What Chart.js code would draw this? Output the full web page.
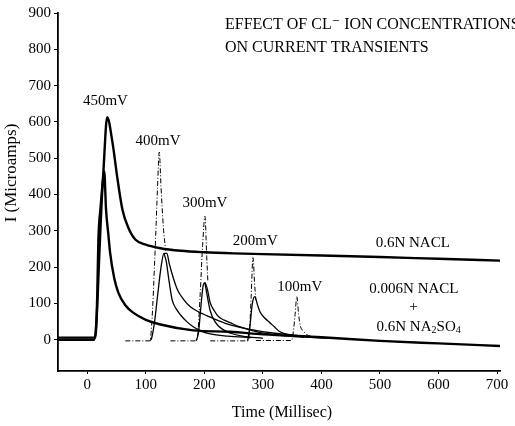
<!DOCTYPE html>
<html>
<head>
<meta charset="utf-8">
<script src="https://cdn.jsdelivr.net/npm/chart.js@4.4.1/dist/chart.umd.min.js"></script>
<style>
  html, body { margin: 0; padding: 0; background: #fff; }
  #wrap { width: 515px; height: 426px; }
</style>
</head>
<body>
<div id="wrap"><canvas id="transientChart"></canvas></div>
<script>
// axis ticks
const xTicks = [0, 100, 200, 300, 400, 500, 600, 700];
const yTicks = [0, 100, 200, 300, 400, 500, 600, 700, 800, 900];

// 450 mV, 0.6N NACL
const t450Nacl = [-50, 14, 17, 19, 23, 27, 34, 43, 51, 60, 70, 82, 100, 125, 160, 200, 250, 300, 400, 500, 600, 705];
const i450Nacl = [6, 6, 120, 276, 370, 450, 613, 544, 450, 359, 309, 276, 262, 252, 245, 241, 238, 236, 232, 228, 223, 218];

// 450 mV, 0.006N NACL + 0.6N NA2SO4
const t450Mix = [-50, 12, 16, 21, 26, 29, 32, 36, 39, 46, 53, 65, 79, 100, 125, 181, 244, 300, 400, 500, 600, 705];
const i450Mix = [0, 0, 60, 250, 420, 464, 360, 290, 240, 170, 130, 95, 74, 55, 42, 26, 22, 15, 7, -3, -10, -17];

// 400 mV
const t400Spike = [65, 107, 110, 116, 120, 123, 126, 130, 134];
const i400Spike = [-3, -3, 40, 250, 420, 517, 420, 310, 245];
const t400Slow = [107, 110, 115, 120, 126, 131, 136, 140, 147, 154, 165, 176, 190, 205, 225, 244, 280, 320, 360];
const i400Slow = [-3, 5, 50, 120, 200, 238, 238, 210, 170, 138, 110, 91, 77, 66, 52, 41, 28, 18, 12];
const t400Fast = [131, 135, 139, 145, 152, 159, 170, 181, 195, 210, 240, 280];
const i400Fast = [238, 215, 170, 110, 85, 69, 50, 36, 24, 16, 10, 6];

// 300 mV
const t300Spike = [142, 186, 189, 193, 197, 201, 204, 206];
const i300Spike = [-3, -3, 20, 130, 260, 340, 230, 160];
const t300Slow = [186, 190, 194, 198, 201, 205, 210, 217, 224, 234, 244, 260, 290, 330, 370];
const i300Slow = [-3, 20, 90, 150, 157, 140, 102, 80, 64, 54, 47, 36, 22, 12, 7];
const t300Fast = [201, 205, 210, 218, 230, 245, 265, 300];
const i300Fast = [157, 120, 80, 50, 30, 18, 10, 4];

// 200 mV
const t200Spike = [210, 274, 277, 280, 283, 286, 288];
const i200Spike = [-3, -3, 20, 120, 226, 150, 110];
const t200Slow = [274, 278, 282, 286, 291, 295, 303, 312, 320, 329, 345, 370, 410];
const i200Slow = [-3, 40, 100, 119, 95, 77, 60, 47, 35, 22, 14, 8, 4];

// 100 mV
const t100Spike = [288, 349, 352, 355, 358, 361, 364, 369, 375, 390, 420];
const i100Spike = [-2, -2, 22, 70, 119, 70, 38, 24, 14, 8, 4];

const zip = (t, i) => t.map((v, k) => ({ x: v, y: i[k] }));

function trace(label, t, i, kind) {
  const style = {
    main: { borderWidth: 2.4, borderDash: [] },
    decay: { borderWidth: 1.3, borderDash: [] },
    spike: { borderWidth: 1, borderDash: [5, 2, 1, 2] },
  }[kind];
  return {
    label,
    data: zip(t, i),
    borderColor: "#000",
    borderWidth: style.borderWidth,
    borderDash: style.borderDash,
    pointRadius: 0,
    fill: false,
    cubicInterpolationMode: "monotone",
  };
}

const SERIF = "'Liberation Serif', 'DejaVu Serif', serif";

// text on the plot: curve labels, notes and the two-line heading
const notesPlugin = {
  id: "notes",
  afterDraw(chart) {
    const { ctx, scales } = chart;
    const px = (v) => scales.x.getPixelForValue(v);
    const py = (v) => scales.y.getPixelForValue(v);
    ctx.save();
    ctx.fillStyle = "#000";
    ctx.textBaseline = "middle";
    ctx.textAlign = "center";
    ctx.font = "15px " + SERIF;
    [["450mV", 31, 657], ["400mV", 121, 547], ["300mV", 201, 376], ["200mV", 287, 273], ["100mV", 363, 146]]
      .forEach(([s, x, y]) => ctx.fillText(s, px(x), py(y)));

    ctx.fillText("0.6N NACL", px(556), py(265));
    ctx.fillText("0.006N NACL", px(558), py(141));
    ctx.fillText("+", px(557), py(91));

    // 0.6N NA2SO4 with subscripts
    const parts = [["0.6N NA", 15, 0], ["2", 10, 4], ["SO", 15, 0], ["4", 10, 4]];
    let w = 0;
    parts.forEach(([s, f]) => { ctx.font = f + "px " + SERIF; w += ctx.measureText(s).width; });
    let x = px(566) - w / 2;
    ctx.textAlign = "left";
    parts.forEach(([s, f, dy]) => {
      ctx.font = f + "px " + SERIF;
      ctx.fillText(s, x, py(36) + dy);
      x += ctx.measureText(s).width;
    });

    ctx.font = "16px " + SERIF;
    ctx.textBaseline = "alphabetic";
    ctx.fillText("EFFECT OF CL\u207B ION CONCENTRATIONS", 225, 29);
    ctx.fillText("ON CURRENT TRANSIENTS", 225, 52);

    // axis titles
    ctx.textAlign = "center";
    ctx.textBaseline = "middle";
    ctx.font = "16px " + SERIF;
    ctx.fillText("Time (Millisec)", 282, 413);
    ctx.font = "17px " + SERIF;
    ctx.translate(12, 173);
    ctx.rotate(-Math.PI / 2);
    ctx.fillText("I (Microamps)", 0, 0);
    ctx.restore();
  },
};

document.addEventListener("DOMContentLoaded", function () {
  const ctx = document.getElementById("transientChart").getContext("2d");

  new Chart(ctx, {
    type: "line",
    data: {
      datasets: [
        trace("450mV 0.6N NACL", t450Nacl, i450Nacl, "main"),
        trace("450mV 0.006N NACL + 0.6N NA2SO4", t450Mix, i450Mix, "main"),
        trace("400mV spike", t400Spike, i400Spike, "spike"),
        trace("400mV slow", t400Slow, i400Slow, "decay"),
        trace("400mV fast", t400Fast, i400Fast, "decay"),
        trace("300mV spike", t300Spike, i300Spike, "spike"),
        trace("300mV slow", t300Slow, i300Slow, "decay"),
        trace("300mV fast", t300Fast, i300Fast, "decay"),
        trace("200mV spike", t200Spike, i200Spike, "spike"),
        trace("200mV slow", t200Slow, i200Slow, "decay"),
        trace("100mV spike", t100Spike, i100Spike, "spike"),
      ],
    },
    options: {
      responsive: true,
      maintainAspectRatio: false,
      animation: false,
      layout: { padding: { top: 13, right: 15, left: 0, bottom: 0 } },
      plugins: {
        legend: { display: false },
        tooltip: { enabled: false },
      },
      scales: {
        x: {
          type: "linear",
          min: -50,
          max: 705,
          afterBuildTicks: (axis) => { axis.ticks = xTicks.map((v) => ({ value: v })); },
          afterFit: (scale) => { scale.height = 55; },
          border: { color: "#000", width: 1.8 },
          grid: { drawOnChartArea: false, tickLength: 3, color: "#000" },
          ticks: { color: "#000", padding: 2, font: { family: SERIF, size: 15 } },
        },
        y: {
          type: "linear",
          min: -86,
          max: 900,
          afterBuildTicks: (axis) => { axis.ticks = yTicks.map((v) => ({ value: v })); },
          afterFit: (scale) => { scale.width = 58; },
          border: { color: "#000", width: 1.8 },
          grid: { drawOnChartArea: false, tickLength: 4, color: "#000" },
          ticks: { color: "#000", padding: 3, font: { family: SERIF, size: 15 } },
        },
      },
    },
    plugins: [notesPlugin],
  });
});
</script>
</body>
</html>
